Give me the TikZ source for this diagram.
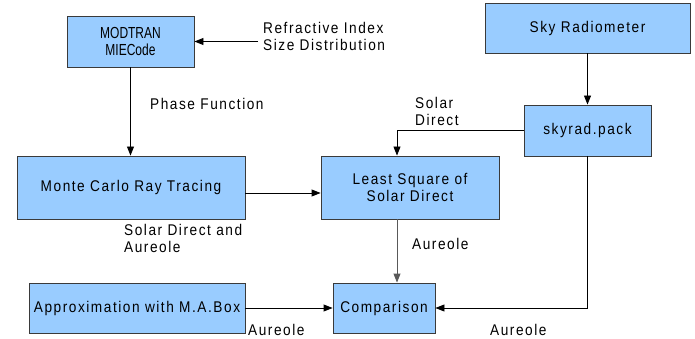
\documentclass[tikz,border=0pt]{standalone}
\usepackage{fontspec}
\setmainfont{Liberation Sans}[FakeStretch=0.88, LetterSpace=10]
\newfontfamily\narrowfont{Liberation Sans}[FakeStretch=0.75]
\usetikzlibrary{arrows.meta}
\definecolor{boxfill}{HTML}{99CCFF}
\definecolor{boxline}{HTML}{3A3A3A}
\tikzset{
  txt/.style={font=\fontsize{15.5}{17}\selectfont},
  box/.style={txt, draw=boxline, line width=0.9pt, fill=boxfill, align=center,
    inner sep=0pt},
  lbl/.style={txt, anchor=west, align=left, inner sep=0pt},
  link/.style={line width=0.9pt, -{Triangle[length=9pt,width=7pt]}},
}
\begin{document}
\begin{tikzpicture}[x=1pt,y=-1pt]
\useasboundingbox (0,0) rectangle (695,339);

% process boxes
\node[box, minimum width=127pt, minimum height=51pt,
  font=\narrowfont\fontsize{16}{17}\selectfont]
  (mie) at (130.5,41.5) {MODTRAN\\MIECode};
\node[box, minimum width=205pt, minimum height=50pt] (sky) at (587.5,28) {Sky Radiometer};
\node[box, minimum width=127pt, minimum height=51pt] (pack) at (587.5,130.5) {skyrad.pack};
\node[box, minimum width=178pt, minimum height=63pt] (lsq) at (410,187.5) {Least Square of\\Solar Direct};
\node[box, minimum width=228pt, minimum height=63pt] (mc) at (131,187.5) {Monte Carlo Ray Tracing};
\node[box, minimum width=216pt, minimum height=50pt] (ma) at (137,308) {Approximation with M.A.Box};
\node[box, minimum width=102pt, minimum height=50pt] (cmp) at (384,308) {Comparison};

% labels
\node[lbl] (inp) at (263,36) {Refractive Index\\Size Distribution};
\node[lbl] at (150,104) {Phase Function};
\node[lbl] at (415,111) {Solar\\Direct};
\node[lbl] at (124,238.5) {Solar Direct and\\Aureole};
\node[lbl] at (412,244) {Aureole};
\node[lbl] at (248,330) {Aureole};
\node[lbl] at (490,330) {Aureole};

% connectors
\coordinate (inpend) at (258,41.5);
\draw[link] (inpend) -- (mie.east);
\draw[link] (mie.south) -- (mie.south |- mc.north);
\draw[link] (sky.south) -- (pack.north);
\draw[link] (pack.west) -| ([xshift=-13pt]lsq.north);
\draw[link] ([yshift=-5.5pt]mc.east) -- ([yshift=-5.5pt]lsq.west);
\draw[link, draw=black!65, fill=black] ([xshift=-13pt]lsq.south) -- ([xshift=-13pt]lsq.south |- cmp.north);
\draw[link] (ma.east) -- (cmp.west);
\draw[link] (pack.south) |- (cmp.east);
\end{tikzpicture}
\end{document}
